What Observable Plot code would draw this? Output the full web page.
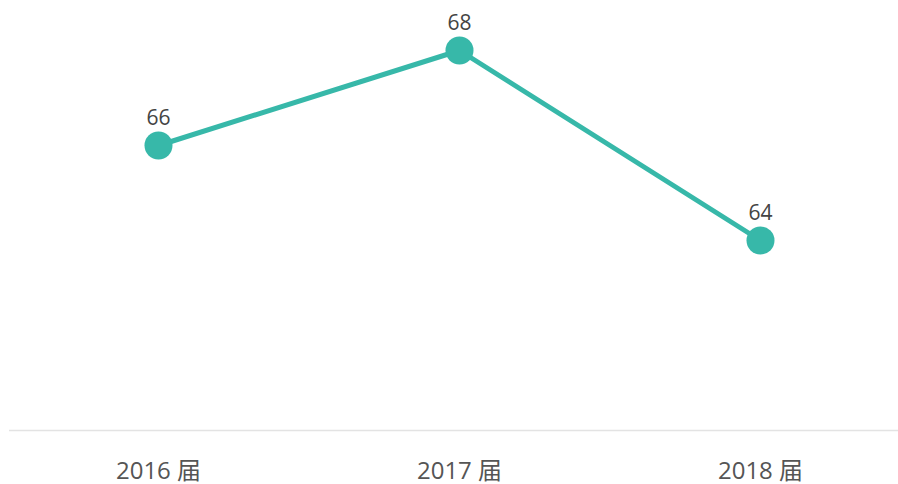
<!DOCTYPE html>
<html><head><meta charset="utf-8">
<script src="https://cdn.jsdelivr.net/npm/d3@7"></script>
<script src="https://cdn.jsdelivr.net/npm/@observablehq/plot@0.6"></script>
<style>body{margin:0;background:#fff;font-family:"Open Sans","Noto Sans CJK SC",sans-serif}</style>
</head><body><div id="chart"></div>
<script>
const categories = ["2016 届", "2017 届", "2018 届"];
const values = [66, 68, 64];
const data = categories.map((c, i) => ({cat: c, v: values[i]}));
const color = "#37b8a9";
const chart = Plot.plot({
  width: 898, height: 484,
  marginLeft: 9, marginRight: 0, marginTop: 0, marginBottom: 54,
  style: {fontFamily: '"Open Sans","Noto Sans CJK SC",sans-serif', background: "#fff"},
  x: {type: "point", domain: categories, range: [158, 760], padding: 0, axis: null},
  y: {domain: [60, 70], range: [430, -45], axis: null},
  marks: [
    Plot.ruleY([60], {stroke: "#e3e3e3", strokeWidth: 1.5}),
    Plot.text(categories, {x: d => d, y: 60, dy: 41, text: d => d, fontSize: 24, fill: "#555"}),
    Plot.line(data, {x: "cat", y: "v", stroke: color, strokeWidth: 5}),
    Plot.dot(data, {x: "cat", y: "v", r: 14, fill: color, stroke: "none"}),
    Plot.text(data, {x: "cat", y: "v", text: d => String(d.v), dy: -27, fontSize: 21, fill: "#444"})
  ]
});
document.getElementById("chart").append(chart);
</script></body></html>
